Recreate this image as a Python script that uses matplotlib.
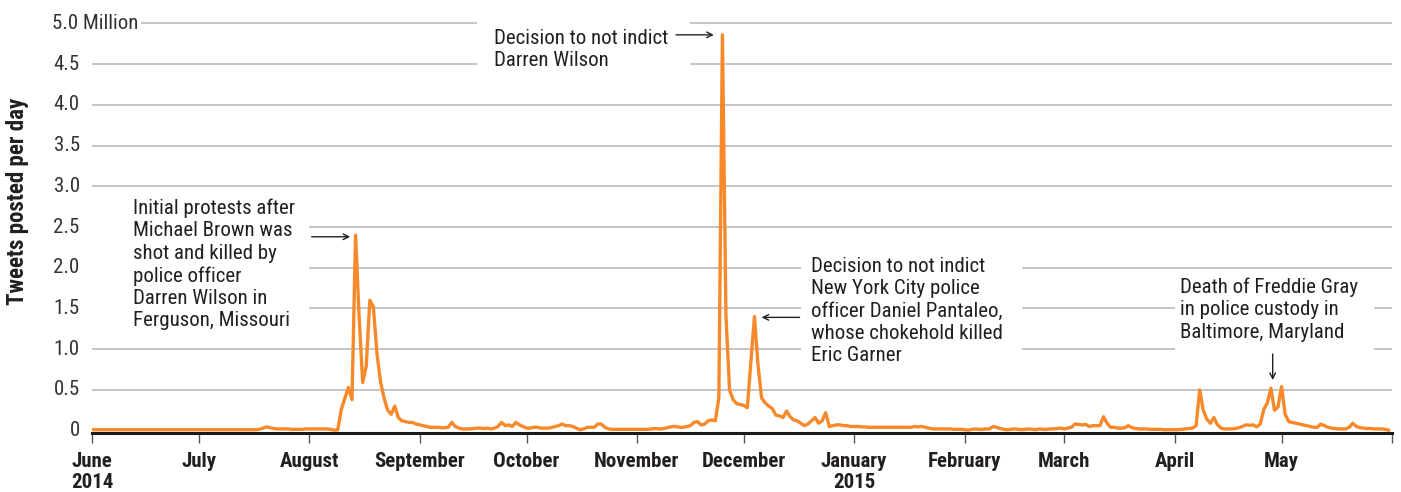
import pandas as pd
import matplotlib
matplotlib.use("Agg")
import matplotlib.pyplot as plt
import matplotlib.dates as mdates
from matplotlib.patches import Rectangle

plt.rcParams['font.family'] = ['Roboto Condensed', 'Liberation Sans Narrow', 'Roboto', 'DejaVu Sans']

# daily tweets (millions), June 2014 - May 2015
jun = [0.01, 0.01, 0.01, 0.01, 0.01, 0.01, 0.01, 0.01, 0.01, 0.01,
       0.01, 0.01, 0.01, 0.01, 0.01, 0.01, 0.01, 0.01, 0.01, 0.01,
       0.01, 0.01, 0.01, 0.01, 0.01, 0.01, 0.01, 0.01, 0.01, 0.01]
jul = [0.01, 0.01, 0.01, 0.01, 0.01, 0.01, 0.01, 0.01, 0.01, 0.01,
       0.01, 0.01, 0.01, 0.01, 0.01, 0.01, 0.01, 0.015, 0.03, 0.045,
       0.035, 0.025, 0.02, 0.02, 0.02, 0.02, 0.015, 0.015, 0.015, 0.015, 0.02]
aug = [0.02, 0.02, 0.02, 0.02, 0.02, 0.02, 0.015, 0.005, 0.01, 0.26,
       0.40, 0.53, 0.38, 2.40, 1.40, 0.59, 0.79, 1.60, 1.52, 0.95,
       0.60, 0.40, 0.25, 0.20, 0.30, 0.16, 0.12, 0.11, 0.10, 0.10, 0.08]
sep = [0.07, 0.06, 0.05, 0.04, 0.04, 0.04, 0.035, 0.035, 0.04, 0.10,
       0.05, 0.03, 0.02, 0.02, 0.02, 0.025, 0.03, 0.03, 0.025, 0.03,
       0.02, 0.03, 0.05, 0.10, 0.06, 0.07, 0.05, 0.10, 0.07, 0.05]
oct_ = [0.03, 0.03, 0.04, 0.04, 0.03, 0.03, 0.03, 0.035, 0.05, 0.06,
        0.08, 0.06, 0.06, 0.05, 0.03, 0.01, 0.02, 0.04, 0.04, 0.04,
        0.08, 0.08, 0.04, 0.02, 0.015, 0.015, 0.015, 0.015, 0.015, 0.015, 0.015]
nov = [0.015, 0.015, 0.015, 0.015, 0.02, 0.025, 0.02, 0.02, 0.03, 0.04,
       0.05, 0.05, 0.04, 0.04, 0.05, 0.06, 0.10, 0.11, 0.07, 0.08,
       0.12, 0.13, 0.12, 0.40, 4.86, 1.40, 0.50, 0.38, 0.33, 0.32]
dec = [0.31, 0.28, 0.85, 1.40, 0.80, 0.40, 0.34, 0.30, 0.27, 0.19,
       0.18, 0.16, 0.24, 0.17, 0.13, 0.12, 0.09, 0.06, 0.08, 0.12,
       0.16, 0.09, 0.12, 0.22, 0.05, 0.06, 0.07, 0.07, 0.06, 0.06, 0.05]
jan = [0.05, 0.05, 0.045, 0.045, 0.04, 0.04, 0.04, 0.04, 0.04, 0.04,
       0.04, 0.04, 0.04, 0.04, 0.04, 0.04, 0.04, 0.05, 0.045, 0.05,
       0.04, 0.03, 0.02, 0.02, 0.02, 0.02, 0.02, 0.02, 0.015, 0.015, 0.015]
feb = [0.01, 0.005, 0.015, 0.02, 0.015, 0.015, 0.02, 0.02, 0.05, 0.04,
       0.025, 0.015, 0.01, 0.015, 0.02, 0.015, 0.01, 0.015, 0.02, 0.015,
       0.01, 0.02, 0.015, 0.015, 0.02, 0.02, 0.025, 0.03]
mar = [0.02, 0.03, 0.04, 0.08, 0.075, 0.07, 0.075, 0.05, 0.06, 0.06,
       0.06, 0.17, 0.09, 0.04, 0.04, 0.03, 0.03, 0.035, 0.06, 0.035,
       0.025, 0.02, 0.02, 0.02, 0.015, 0.015, 0.015, 0.015, 0.01, 0.01, 0.01]
apr = [0.01, 0.01, 0.015, 0.02, 0.025, 0.03, 0.06, 0.50, 0.25, 0.14,
       0.09, 0.16, 0.07, 0.03, 0.02, 0.02, 0.02, 0.025, 0.035, 0.05,
       0.07, 0.065, 0.07, 0.045, 0.08, 0.26, 0.34, 0.52, 0.25, 0.29]
may = [0.54, 0.20, 0.11, 0.10, 0.09, 0.08, 0.07, 0.06, 0.05, 0.04,
       0.04, 0.08, 0.06, 0.04, 0.03, 0.025, 0.02, 0.02, 0.02, 0.04,
       0.09, 0.05, 0.035, 0.03, 0.025, 0.025, 0.02, 0.02, 0.02, 0.015, 0.005]

tweets = jun + jul + aug + sep + oct_ + nov + dec + jan + feb + mar + apr + may
days = pd.date_range("2014-06-01", periods=len(tweets), freq="D")

month_ticks = pd.date_range("2014-06-01", "2015-06-01", freq="MS")
month_labels = ["June\n2014", "July", "August", "September", "October", "November",
                "December", "January\n2015", "February", "March", "April", "May", ""]
y_ticks = [0, 0.5, 1.0, 1.5, 2.0, 2.5, 3.0, 3.5, 4.0, 4.5]
y_labels = ["0", "0.5", "1.0", "1.5", "2.0", "2.5", "3.0", "3.5", "4.0", "4.5"]

orange = "#f7892b"
grid = "#b5b5b5"
ink = "#231f20"

fig = plt.figure(figsize=(14.01, 4.92), dpi=100)
ax = fig.add_axes([92/1401, 59/492, 1300/1401, 412/492])

t0 = pd.Timestamp("2014-06-01")
t1 = pd.Timestamp("2015-06-01")
ax.set_xlim(t0, t1)
ax.set_ylim(-0.03, 5.03)

# gridlines
for v in y_ticks[1:] + [5.0]:
    ax.axhline(v, color=grid, lw=1.1, zorder=0.5)

# white masks behind the annotation blocks
def mask(d0, d1, y0, y1):
    x0 = mdates.date2num(pd.Timestamp(d0))
    x1 = mdates.date2num(pd.Timestamp(d1))
    ax.add_patch(Rectangle((x0, y0), x1 - x0, y1 - y0, fc="white", ec="none", zorder=1))

mask("2014-05-31", "2014-08-01", 1.1, 2.7)
mask("2014-09-17", "2014-11-16", 4.4, 5.1)
mask("2014-12-17", "2015-02-17", 0.9, 2.1)
mask("2015-04-01", "2015-05-27", 0.9, 1.9)

ax.plot(days, tweets, color=orange, lw=2.4, zorder=3, solid_joinstyle="round")

# axes styling
for s in ["top", "right", "left"]:
    ax.spines[s].set_visible(False)
ax.spines["bottom"].set_color("#1a1a1a")
ax.spines["bottom"].set_linewidth(2.2)
ax.spines["bottom"].set_zorder(4)
ax.set_xticks(month_ticks)
ax.set_xticklabels(month_labels, fontsize=15, fontweight="bold", color=ink,
                   linespacing=1.12)
ax.tick_params(axis="x", direction="out", length=7.5, width=1, color="#555555", pad=6)
ax.set_yticks([])

ytrans = ax.get_yaxis_transform()
for v, lab in zip(y_ticks, y_labels):
    ax.text(-0.0095, v, lab, transform=ytrans, ha="right", va="center",
            fontsize=15, color="#333333")
ax.text(-0.031, 5.0, "5.0 Million", transform=ytrans, ha="left", va="center",
        fontsize=15, color="#333333", zorder=5,
        bbox=dict(fc="white", ec="none", pad=2))

fig.text(18/1401, 1 - 201/492, "Tweets posted per day", rotation=90, ha="center",
         va="center", fontsize=16.5, fontweight="bold", color=ink)

# annotations
txt = dict(fontsize=15, color=ink, ha="left", va="top", linespacing=1.22, zorder=5)
arrow = dict(arrowstyle="->", color=ink, lw=1.0, shrinkA=0, shrinkB=0)

ax.text(pd.Timestamp("2014-06-12 12:00"), 2.85,
        "Initial protests after\nMichael Brown was\nshot and killed by\npolice officer\n"
        "Darren Wilson in\nFerguson, Missouri", **txt)
ax.annotate("", xy=(pd.Timestamp("2014-08-12 12:00"), 2.38),
            xytext=(pd.Timestamp("2014-08-01 16:00"), 2.38), arrowprops=arrow, zorder=5)

ax.text(pd.Timestamp("2014-09-21 20:00"), 4.93,
        "Decision to not indict\nDarren Wilson", **txt)
ax.annotate("", xy=(pd.Timestamp("2014-11-22 14:00"), 4.86),
            xytext=(pd.Timestamp("2014-11-12 00:00"), 4.86), arrowprops=arrow, zorder=5)

ax.text(pd.Timestamp("2014-12-20 00:00"), 2.13,
        "Decision to not indict\nNew York City police\nofficer Daniel Pantaleo,\n"
        "whose chokehold killed\nEric Garner", **txt)
ax.annotate("", xy=(pd.Timestamp("2014-12-06 00:00"), 1.39),
            xytext=(pd.Timestamp("2014-12-16 16:00"), 1.39), arrowprops=arrow, zorder=5)

ax.text(pd.Timestamp("2015-04-02 14:00"), 1.88,
        "Death of Freddie Gray\nin police custody in\nBaltimore, Maryland", **txt)
ax.annotate("", xy=(pd.Timestamp("2015-04-28 12:00"), 0.62),
            xytext=(pd.Timestamp("2015-04-28 12:00"), 0.94), arrowprops=arrow, zorder=5)

fig.savefig("out.png", dpi=100)
